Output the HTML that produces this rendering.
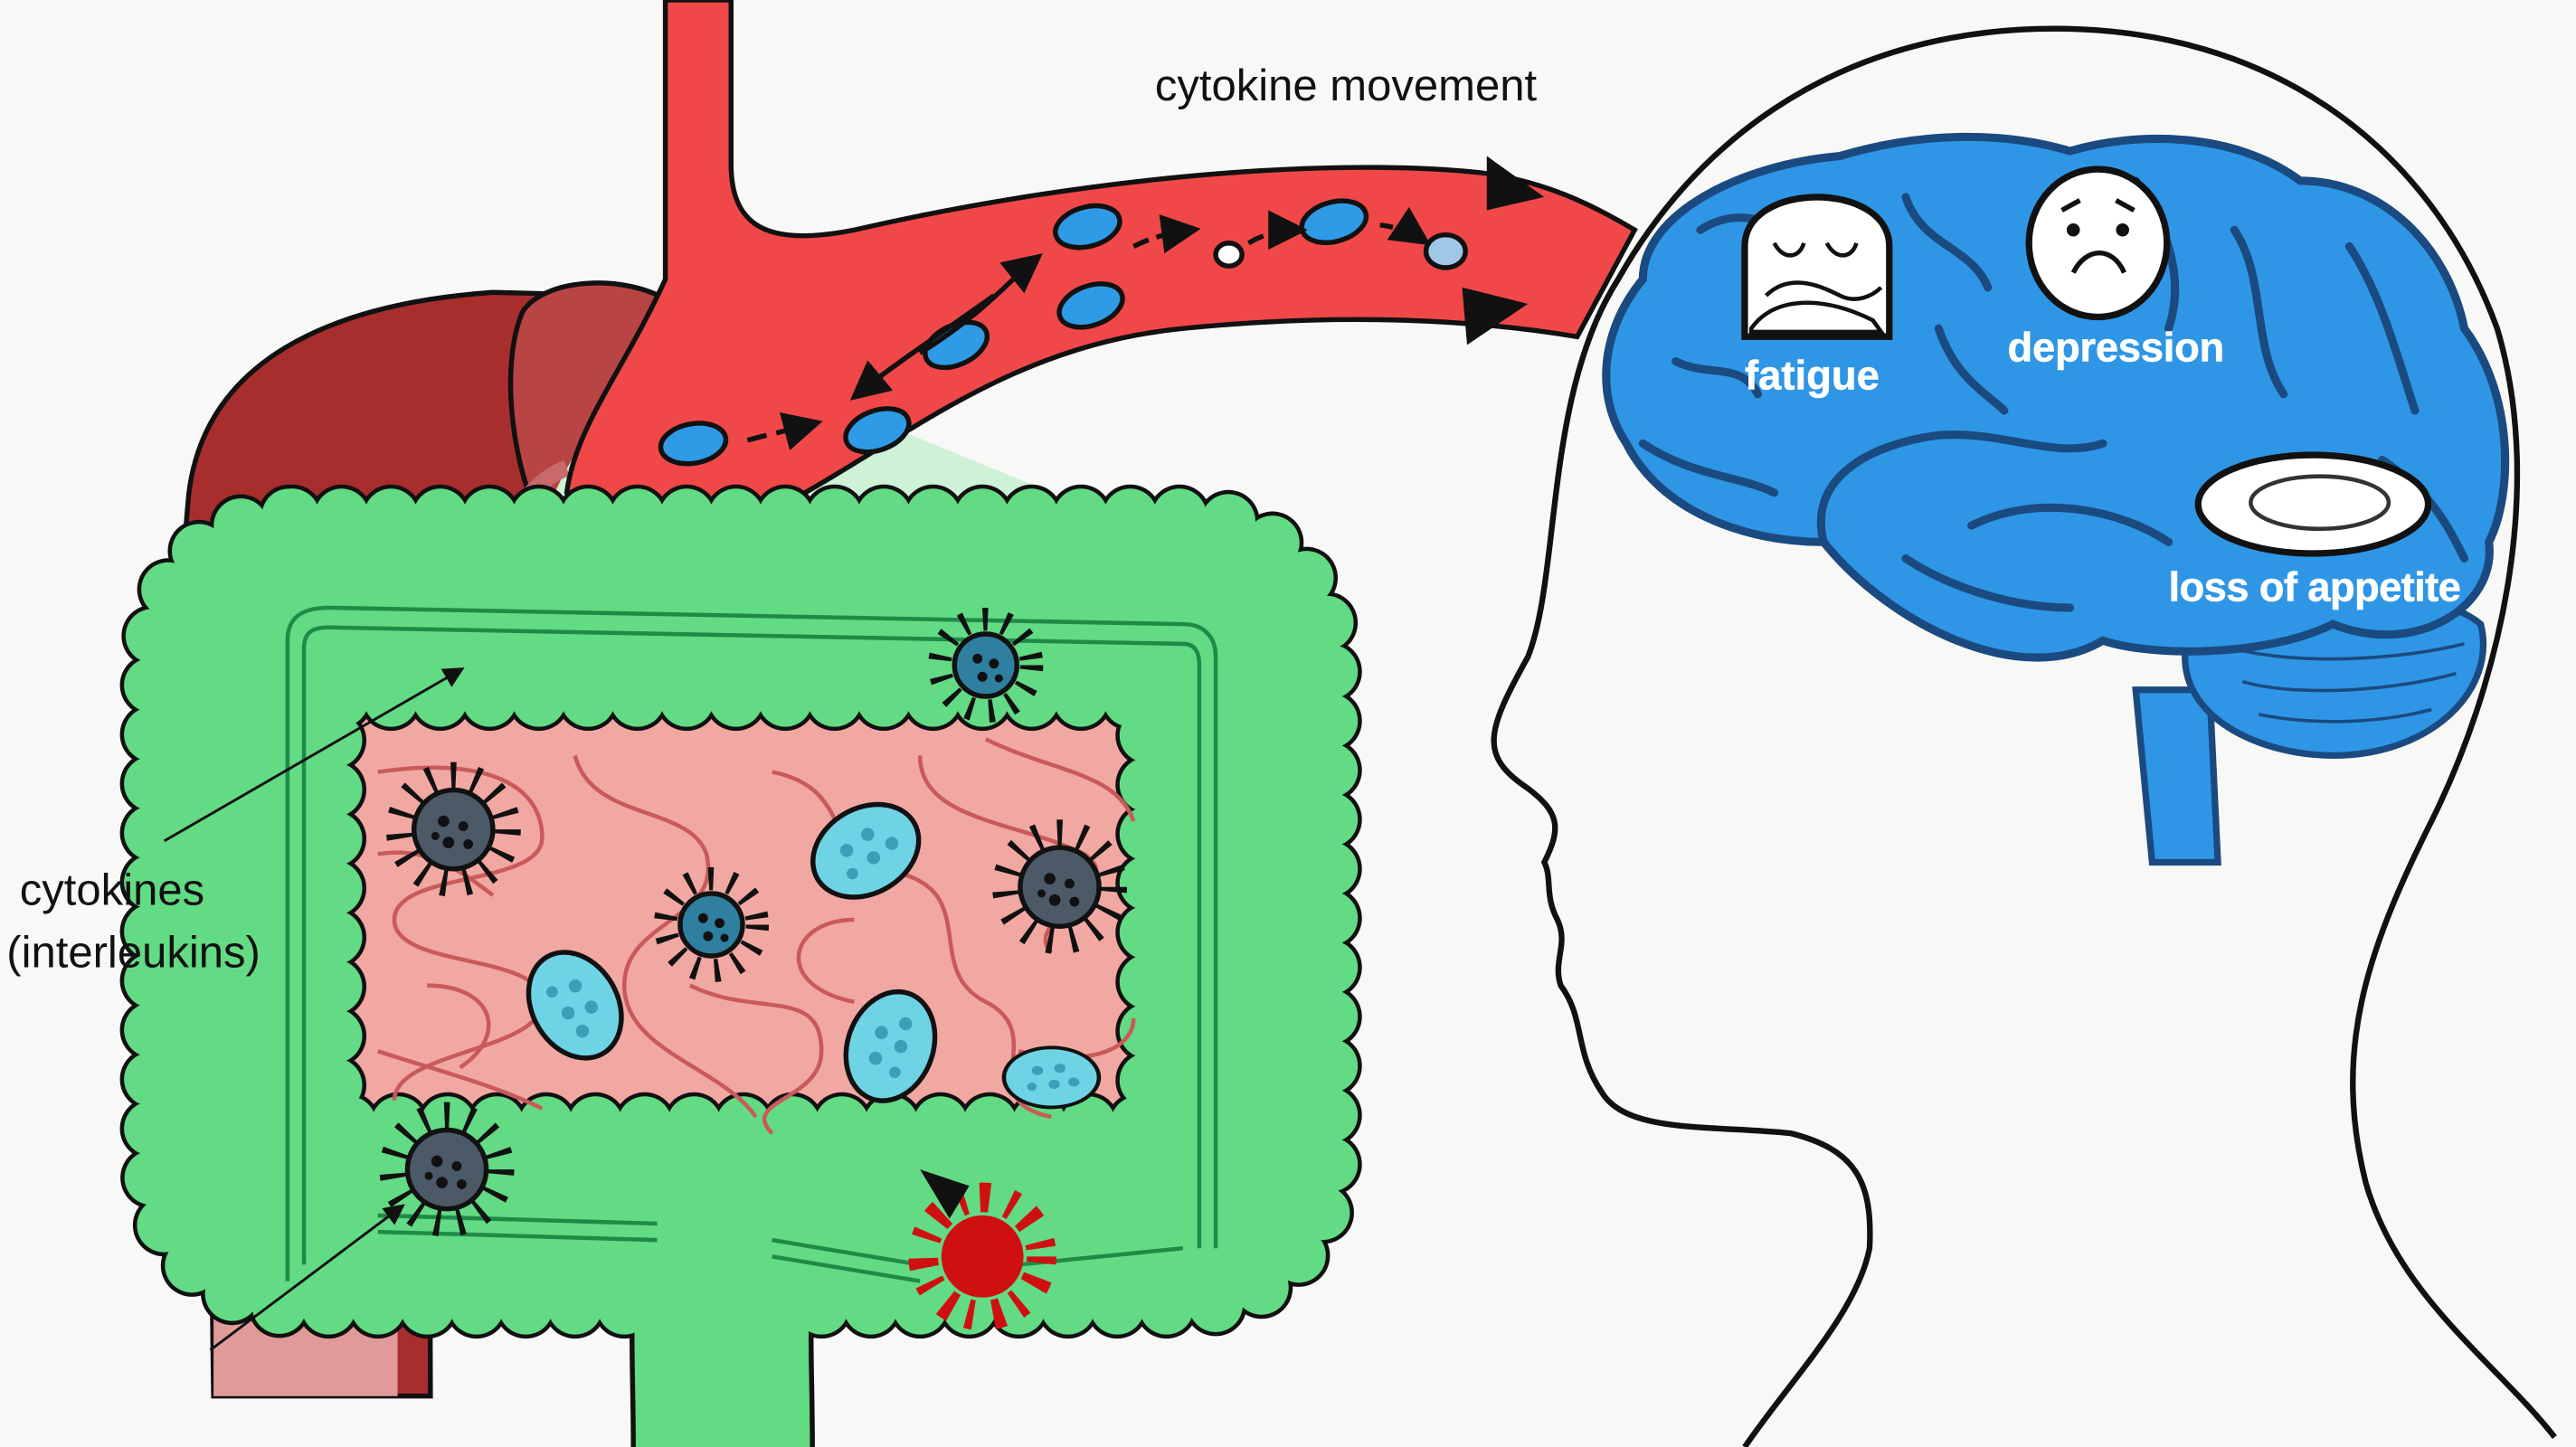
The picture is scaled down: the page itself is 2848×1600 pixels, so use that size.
<!DOCTYPE html>
<html><head><meta charset="utf-8"><style>
html,body{margin:0;padding:0;background:#f8f8f6;}
svg{display:block;}
text{font-family:"Liberation Sans",sans-serif;}
</style></head><body>
<svg width="2848" height="1600" viewBox="0 0 1568 881" preserveAspectRatio="none" xmlns="http://www.w3.org/2000/svg">
<defs>
<marker id="ah" markerWidth="8" markerHeight="8" refX="6" refY="4" orient="auto" markerUnits="strokeWidth"><path d="M0,0 L8,4 L0,8 z" fill="#111"/></marker>
<g id="vir"><circle r="33" fill="none" stroke="#111" stroke-width="16" stroke-dasharray="3 11"/><circle r="24" fill="#4c5a68" stroke="#111" stroke-width="3"/><circle cx="-6" cy="-5" r="3.5" fill="#111"/><circle cx="6" cy="-2" r="3" fill="#111"/><circle cx="-3" cy="8" r="3.5" fill="#111"/><circle cx="9" cy="9" r="3" fill="#111"/><circle cx="-11" cy="4" r="2.5" fill="#111"/></g>
<g id="vir2"><circle r="28" fill="none" stroke="#111" stroke-width="14" stroke-dasharray="3 10"/><circle r="19" fill="#2f7fa0" stroke="#111" stroke-width="3"/><circle cx="-5" cy="-4" r="3" fill="#111"/><circle cx="5" cy="-1" r="3" fill="#111"/><circle cx="-2" cy="7" r="3" fill="#111"/><circle cx="8" cy="8" r="2.5" fill="#111"/></g>
<g id="bac"><ellipse rx="34" ry="26" fill="#6fd3e6" stroke="#111" stroke-width="3"/><circle cx="-10" cy="-6" r="4" fill="#3aa0b8"/><circle cx="6" cy="-8" r="4" fill="#3aa0b8"/><circle cx="2" cy="6" r="4" fill="#3aa0b8"/><circle cx="16" cy="4" r="4" fill="#3aa0b8"/><circle cx="-14" cy="8" r="3.5" fill="#3aa0b8"/></g>
</defs>
<rect width="1568" height="881" fill="#f8f8f6"/>

<!-- liver -->
<path d="M130,850 L128,700 C110,600 105,400 115,300 C125,220 200,185 300,178 L380,180 L400,300 L260,330 L262,850 Z" fill="#a82e2e" stroke="#111" stroke-width="3"/>
<path d="M130,760 L242,760 L242,850 L130,850 Z" fill="#e19a9a"/>
<path d="M318,190 C330,170 380,165 410,185 L420,250 C380,260 340,300 330,320 C310,280 305,220 318,190 Z" fill="#b94444" stroke="#111" stroke-width="3"/>
<path d="M330,320 C360,230 430,200 470,230 L640,300 C650,330 640,350 620,360 L340,360 Z" fill="#cdf2d6"/>
<path d="M300,340 C310,310 330,290 345,285" stroke="#c96a6a" stroke-width="10" fill="none"/>

<!-- vessel -->
<path d="M405,0 L445,0 L445,100 C445,140 470,150 520,140 C650,110 800,95 900,105 C940,110 970,125 995,140 L960,205 C900,195 820,190 720,200 C620,210 560,260 490,300 C430,330 370,325 345,300 C350,260 380,225 405,170 Z" fill="#f04848" stroke="#111" stroke-width="3"/>
<path d="M905,95 L940,120 L905,128 Z" fill="#111"/>
<path d="M890,175 L930,185 L893,210 Z" fill="#111"/>
<g fill="#2f9be6" stroke="#111" stroke-width="3">
<ellipse cx="422" cy="270" rx="20" ry="12" transform="rotate(-10 422 270)"/>
<ellipse cx="534" cy="262" rx="20" ry="12" transform="rotate(-20 534 262)"/>
<ellipse cx="582" cy="210" rx="20" ry="12" transform="rotate(-25 582 210)"/>
<ellipse cx="664" cy="186" rx="20" ry="12" transform="rotate(-20 664 186)"/>
<ellipse cx="662" cy="138" rx="20" ry="12" transform="rotate(-15 662 138)"/>
<ellipse cx="812" cy="135" rx="20" ry="12" transform="rotate(-15 812 135)"/>
<ellipse cx="880" cy="153" rx="12" ry="10" fill="#9fc8e8"/>
<ellipse cx="748" cy="155" rx="8" ry="7" fill="#fff"/>
</g>
<g stroke="#111" stroke-width="3" fill="none" marker-end="url(#ah)">
<path d="M455,268 C470,264 480,262 495,258" stroke-dasharray="12 6"/>
<path d="M560,215 C600,190 615,170 630,158"/>
<path d="M605,180 C570,205 540,225 522,240"/>
<path d="M690,150 C700,145 710,142 725,140" stroke-dasharray="10 5"/>
<path d="M760,148 C770,142 780,140 790,140" stroke-dasharray="10 5"/>
<path d="M840,137 C850,138 860,142 866,146" stroke-dasharray="8 5"/>
</g>

<!-- colon -->
<rect x="190" y="410" width="520" height="290" fill="#f1a8a2"/>
<g fill="none" stroke="#111">
<rect x="92" y="314" width="718" height="482" rx="86" stroke-width="38" stroke-linecap="round" stroke-dasharray="0 30"/>
<rect x="204" y="426" width="494" height="258" rx="4" stroke-width="38" stroke-linecap="round" stroke-dasharray="0 30"/>
<rect x="148" y="370" width="606" height="370" rx="30" stroke-width="112"/>
<path d="M480,745 C430,745 440,790 440,881" stroke-width="112"/>
</g>
<g fill="none" stroke="#63da84">
<rect x="92" y="314" width="718" height="482" rx="86" stroke-width="33" stroke-linecap="round" stroke-dasharray="0 30"/>
<rect x="204" y="426" width="494" height="258" rx="4" stroke-width="33" stroke-linecap="round" stroke-dasharray="0 30"/>
<rect x="148" y="370" width="606" height="370" rx="30" stroke-width="106"/>
<path d="M480,745 C430,745 440,790 440,881" stroke-width="106"/>
</g>
<g fill="none" stroke="#1f8a48" stroke-width="2.5">
<path d="M175,780 L175,390 C175,375 185,370 200,370 L720,380 C735,380 740,390 740,400 L740,760"/>
<path d="M185,770 L185,395 C185,385 190,382 200,382 L720,392 C728,392 730,398 730,405 L730,760"/>
<path d="M230,740 L400,745 M470,755 L560,770 M600,772 L720,760"/>
<path d="M230,750 L400,755 M470,765 L560,780"/>
</g>
<g fill="none" stroke="#c95a5a" stroke-width="2.5">
<path d="M230,470 C300,460 330,480 330,510 C330,540 240,530 240,560 C240,590 330,580 330,610 C330,640 240,640 240,670"/>
<path d="M350,460 C360,500 420,490 430,520 C440,560 380,560 380,600 C380,640 440,650 460,680"/>
<path d="M470,470 C520,480 500,520 540,530 C600,540 560,590 600,610 C640,630 590,670 640,680"/>
<path d="M600,450 C640,470 680,470 690,500 M560,460 C560,500 620,500 660,520 C690,540 620,560 640,580"/>
<path d="M260,600 C300,600 310,630 280,650 M420,600 C460,620 500,600 500,640 C500,670 450,670 470,690"/>
<path d="M520,560 C480,560 470,600 520,610 M620,640 C660,650 690,640 690,620"/>
<path d="M230,520 C260,515 280,530 300,545 M230,640 C260,650 300,660 330,675"/>
</g>
<use href="#vir" x="276" y="505"/>
<use href="#vir" x="645" y="540"/>
<use href="#vir" x="272" y="712"/>
<use href="#vir2" x="433" y="563"/>
<use href="#vir2" x="600" y="405"/>
<use href="#bac" transform="translate(527,518) rotate(-30)"/>
<use href="#bac" transform="translate(350,612) rotate(60)"/>
<use href="#bac" transform="translate(542,637) rotate(-70)"/>
<use href="#bac" transform="translate(640,656) scale(0.85,0.7)"/>
<g transform="translate(598,765)"><circle r="36" fill="none" stroke="#d01010" stroke-width="18" stroke-dasharray="4 9 6 12"/><circle r="25" fill="#d01010"/></g>
<path d="M560,712 L590,722 L578,742 Z" fill="#111"/>
<g stroke="#111" stroke-width="1.6" fill="none" marker-end="url(#ah)">
<path d="M100,512 L280,408"/>
<path d="M128,822 L244,735"/>
</g>
<text x="12" y="551" font-size="27" fill="#111">cytokines</text>
<text x="4" y="589" font-size="27" fill="#111">(interleukins)</text>
<text x="703" y="61" font-size="27" fill="#111">cytokine movement</text>

<!-- head -->
<path d="M1062,881 C1090,840 1130,800 1138,760 C1140,720 1130,700 1090,690 C1040,685 990,690 975,665 C958,640 965,620 950,600 C945,585 955,575 948,560 C940,545 945,535 940,525 C950,505 950,495 930,480 C900,460 905,445 930,400 C950,350 940,240 985,170 C1030,90 1110,25 1230,18 C1380,10 1480,90 1520,200 C1550,300 1520,420 1480,500 C1440,580 1420,640 1440,720 C1460,790 1520,830 1555,875" fill="none" stroke="#111" stroke-width="3.5"/>

<!-- brain -->
<path d="M1300,420 L1310,525 L1350,525 L1345,420 Z" fill="#2f96e6" stroke="#1a4a80" stroke-width="4"/>
<path d="M1330,370 C1380,350 1480,355 1510,380 C1520,420 1480,460 1420,460 C1380,460 1330,440 1330,400 Z" fill="#2f96e6" stroke="#1a4a80" stroke-width="4"/>
<g stroke="#1a4a80" stroke-width="2" fill="none"><path d="M1360,395 C1400,405 1460,402 1500,392 M1365,415 C1400,425 1460,420 1495,410 M1375,435 C1410,442 1450,440 1480,432"/></g>
<path d="M1000,170 C1000,130 1060,100 1120,95 C1170,80 1220,80 1260,92 C1300,80 1360,80 1400,110 C1450,110 1490,150 1500,200 C1530,240 1530,300 1515,330 C1520,370 1470,400 1420,380 C1380,400 1310,400 1280,390 C1230,420 1150,380 1110,330 C1060,330 1010,310 990,270 C970,240 975,200 1000,170 Z" fill="#2f96e6" stroke="#1a4a80" stroke-width="5"/>
<g stroke="#1a4a80" stroke-width="5" fill="none" stroke-linecap="round">
<path d="M1110,330 C1100,290 1140,270 1180,265 C1220,262 1250,280 1280,270"/>
<path d="M1035,140 C1050,130 1070,130 1080,140 M1020,220 C1040,230 1060,220 1070,240 M1000,270 C1030,290 1060,290 1080,300"/>
<path d="M1160,120 C1170,150 1200,150 1210,175 M1180,200 C1190,230 1210,240 1220,250"/>
<path d="M1300,110 C1320,140 1330,170 1320,200 M1360,140 C1380,170 1370,210 1390,240 M1430,150 C1450,180 1460,220 1470,250"/>
<path d="M1200,320 C1240,300 1290,310 1320,330 M1160,340 C1190,360 1230,370 1260,370 M1450,280 C1480,300 1490,320 1500,340"/>
</g>
<path d="M1062,205 L1062,150 C1062,110 1150,110 1150,150 L1150,205 Z" fill="#fff" stroke="#111" stroke-width="4"/>
<path d="M1066,200 C1080,180 1110,180 1140,195 L1145,202 L1066,202 Z" fill="#fff" stroke="#111" stroke-width="2.5"/>
<path d="M1080,148 C1085,158 1095,158 1098,148 M1112,148 C1117,158 1127,158 1130,148 M1075,180 C1090,165 1110,175 1120,180 C1130,185 1140,180 1145,175" fill="none" stroke="#111" stroke-width="2.5"/>
<ellipse cx="1277" cy="148" rx="42" ry="45" fill="#fff" stroke="#111" stroke-width="4"/>
<circle cx="1262" cy="140" r="4" fill="#111"/><circle cx="1292" cy="140" r="4" fill="#111"/>
<path d="M1262,166 C1270,150 1286,150 1293,166 M1255,128 L1266,122 M1299,128 L1288,122" fill="none" stroke="#111" stroke-width="3"/>
<ellipse cx="1408" cy="307" rx="70" ry="30" fill="#fff" stroke="#111" stroke-width="4"/>
<ellipse cx="1412" cy="306" rx="42" ry="16" fill="#fff" stroke="#333" stroke-width="2.5"/>
<g fill="#fff" font-weight="bold" font-size="25" stroke="#fff" stroke-width="0.3">
<text x="1062" y="237" textLength="82">fatigue</text>
<text x="1222" y="220" textLength="132">depression</text>
<text x="1320" y="366" textLength="178">loss of appetite</text>
</g>
</svg>
</body></html>
